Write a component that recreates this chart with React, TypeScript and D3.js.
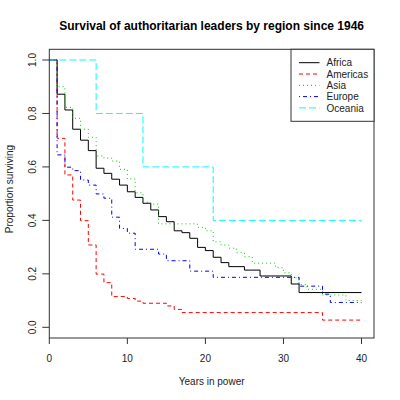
import React from "react";
import * as d3 from "d3";

const regions = ["Africa", "Americas", "Asia", "Europe", "Oceania"];
const colors = ["#000000", "#FF0000", "#00CD00", "#0000FF", "#00FFFF"];
const dashes = ["none", "4,3", "1,3", "1,3,4,3", "7,3"];

const africaTimes = [0, 1, 2, 3, 4, 5, 6, 7, 8, 9, 10, 11, 12, 13, 14, 15, 16, 17, 18, 19, 20, 21, 22, 23, 25, 27, 31, 32, 40];
const africaSurv = [1, 0.872, 0.813, 0.741, 0.7, 0.661, 0.595, 0.576, 0.554, 0.532, 0.507, 0.486, 0.464, 0.439, 0.414, 0.395, 0.361, 0.354, 0.333, 0.299, 0.287, 0.262, 0.242, 0.227, 0.214, 0.192, 0.162, 0.13, 0.13];

const americasTimes = [0, 1, 2, 3, 4, 5, 6, 7, 8, 10, 11, 12, 15, 16, 17, 35, 40];
const americasSurv = [1, 0.707, 0.57, 0.476, 0.399, 0.308, 0.199, 0.167, 0.115, 0.108, 0.098, 0.09, 0.08, 0.067, 0.055, 0.027, 0.027];

const asiaTimes = [0, 1, 2, 3, 4, 5, 6, 7, 8, 9, 10, 11, 12, 13, 14, 19, 20, 21, 22, 23, 24, 25, 26, 29, 30, 31, 32, 33, 35, 38, 40];
const asiaSurv = [1, 0.9, 0.823, 0.782, 0.741, 0.711, 0.641, 0.633, 0.622, 0.591, 0.555, 0.503, 0.468, 0.461, 0.387, 0.374, 0.361, 0.32, 0.308, 0.296, 0.279, 0.264, 0.24, 0.223, 0.204, 0.185, 0.16, 0.142, 0.121, 0.1, 0.1];

const europeTimes = [0, 1, 2, 3, 4, 5, 6, 7, 8, 9, 10, 11, 14, 15, 18, 21, 32, 35, 36, 40];
const europeSurv = [1, 0.645, 0.599, 0.586, 0.551, 0.532, 0.499, 0.483, 0.412, 0.37, 0.352, 0.292, 0.274, 0.249, 0.21, 0.187, 0.154, 0.124, 0.093, 0.093];

const oceaniaTimes = [0, 6, 12, 21, 40];
const oceaniaSurv = [1, 0.8, 0.6, 0.4, 0.4];

const xTicks = [0, 10, 20, 30, 40];
const yTicks = [0, 0.2, 0.4, 0.6, 0.8, 1.0];

const seriesTimes = [africaTimes, americasTimes, asiaTimes, europeTimes, oceaniaTimes];
const seriesSurv = [africaSurv, americasSurv, asiaSurv, europeSurv, oceaniaSurv];

export default function App() {
  const W = 400, H = 400;
  const left = 49.3, right = 374, top = 49.3, bottom = 338;
  const x = d3.scaleLinear().domain([0, 41.6]).range([left, right]);
  const y = d3.scaleLinear().domain([-0.04, 1.04]).range([bottom, top]);
  const line = d3
    .line<[number, number]>()
    .x((d) => x(d[0]))
    .y((d) => y(d[1]))
    .curve(d3.curveStepAfter);
  const textColor = "#222";
  const font = "Liberation Sans, Arial, Helvetica, sans-serif";

  const legX = 291, legY = 49.3, legW = right - 291, legH = 72;
  const itemY0 = 62.7, itemDy = 11.3;

  return (
    <svg
      width={W}
      height={H}
      style={{ position: "absolute", left: 0, top: 0, background: "#fff" }}
      fontFamily={font}
    >
      <rect x={0} y={0} width={W} height={H} fill="#fff" />
      <text x={(left + right) / 2} y={30} textAnchor="middle" fontSize={12} fontWeight="bold" fill="#000">
        Survival of authoritarian leaders by region since 1946
      </text>

      {seriesTimes.map((ts, i) => {
        const pts: [number, number][] = ts.map((t, j) => [t, seriesSurv[i][j]]);
        return (
          <path
            key={regions[i]}
            d={line(pts) || ""}
            fill="none"
            stroke={colors[i]}
            strokeWidth={1}
            strokeDasharray={dashes[i]}
          />
        );
      })}

      <rect x={left} y={top} width={right - left} height={bottom - top} fill="none" stroke="#333" strokeWidth={1} />

      {xTicks.map((t) => (
        <g key={"x" + t}>
          <line x1={x(t)} x2={x(t)} y1={bottom} y2={bottom + 6} stroke="#333" />
          <text x={x(t)} y={362} textAnchor="middle" fontSize={10} fill={textColor}>
            {t}
          </text>
        </g>
      ))}
      {yTicks.map((v) => (
        <g key={"y" + v}>
          <line x1={left - 7} x2={left} y1={y(v)} y2={y(v)} stroke="#333" />
          <text
            transform={`translate(36,${y(v)}) rotate(-90)`}
            textAnchor="middle"
            fontSize={10}
            fill={textColor}
          >
            {v.toFixed(1)}
          </text>
        </g>
      ))}

      <text x={(left + right) / 2} y={385} textAnchor="middle" fontSize={10} fill={textColor}>
        Years in power
      </text>
      <text transform={`translate(13,189) rotate(-90)`} textAnchor="middle" fontSize={10} fill={textColor}>
        Proportion surviving
      </text>

      <rect x={legX} y={legY} width={legW} height={legH} fill="#fff" stroke="#333" strokeWidth={1} />
      {regions.map((r, i) => (
        <g key={"leg" + r}>
          <line
            x1={299}
            x2={319.5}
            y1={itemY0 + i * itemDy}
            y2={itemY0 + i * itemDy}
            stroke={colors[i]}
            strokeDasharray={dashes[i]}
          />
          <text x={326.5} y={itemY0 + i * itemDy + 3.6} fontSize={10} fill={textColor}>
            {r}
          </text>
        </g>
      ))}
    </svg>
  );
}
